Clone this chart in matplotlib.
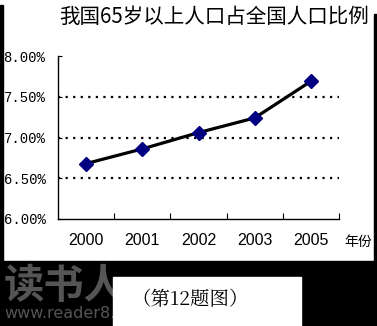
import matplotlib
matplotlib.use("Agg")
import matplotlib.pyplot as plt
from matplotlib.patches import Rectangle

# données
annees = ["2000", "2001", "2002", "2003", "2005"]
pourcent = [6.68, 6.86, 7.06, 7.24, 7.69]
graduations = [6.0, 6.5, 7.0, 7.5, 8.0]
titre = "我国65岁以上人口占全国人口比例"
unite_x = "年份"
legende = "（第12题图）"

W, H = 377, 326
fig = plt.figure(figsize=(W / 100, H / 100), dpi=100)
fig.patch.set_facecolor("white")

def px(x0, y0, x1, y1):
    # rectangle en pixels (origine en haut à gauche) -> coordonnées figure
    return (x0 / W, 1 - y1 / H), (x1 - x0) / W, (y1 - y0) / H

# bordures noires et bandeau du bas
for r in [(0, 5, 2.5, 326), (374, 14, 377, 326), (0, 261, 377, 326)]:
    xy, w, h = px(*r)
    fig.add_artist(Rectangle(xy, w, h, transform=fig.transFigure, color="black", zorder=0))

fig.text(4 / W, 1 - 286 / H, "读书人", fontsize=29, fontweight="bold", color="#555555",
         family=["Noto Sans CJK SC"], va="center", ha="left", zorder=1)
fig.text(4 / W, 1 - 313 / H, "www.reader8.cn", fontsize=11.5, color="#555555",
         family=["DejaVu Sans"], va="center", ha="left", zorder=1)

xy, w, h = px(113, 277, 301, 326)
fig.add_artist(Rectangle(xy, w, h, transform=fig.transFigure, color="white", zorder=2))
fig.text(190 / W, 1 - 300 / H, legende, fontsize=14, color="black",
         family=["Noto Serif CJK SC", "Noto Sans CJK SC"], va="center", ha="center", zorder=3)

# zone du graphique
ax = fig.add_axes([58 / W, 1 - 219 / H, (339 - 58) / W, (219 - 56) / H])
x = list(range(len(annees)))
ax.plot(x, pourcent, color="black", lw=2.3, zorder=3)
ax.plot(x, pourcent, ls="none", marker="D", ms=7, color="#000080", zorder=4)

ax.set_xlim(-0.5, len(annees) - 0.5)
ax.set_ylim(6.0, 8.0)
for g in graduations[1:-1]:
    ax.axhline(g, color="black", lw=1.6, ls=(0, (1, 2.4)), zorder=1)

ax.spines["top"].set_visible(False)
ax.spines["right"].set_visible(False)
for s in ("left", "bottom"):
    ax.spines[s].set_linewidth(1.0)

ax.set_yticks(graduations)
ax.set_yticklabels(["%.2f%%" % g for g in graduations], family="Liberation Mono", fontsize=10)
ax.tick_params(axis="y", direction="in", length=3, pad=9)

ax.set_xticks([i + 0.5 for i in x])
ax.set_xticklabels([])
ax.set_xticks(x, minor=True)
ax.set_xticklabels(annees, minor=True, family="Liberation Sans", fontsize=11.5)
ax.tick_params(axis="x", which="major", direction="in", length=4)
ax.tick_params(axis="x", which="minor", length=0, pad=10)

fig.text(344 / W, 1 - 242 / H, unite_x, fontsize=10, family=["Noto Sans CJK SC"],
         va="center", ha="left")
fig.text(214 / W, 1 - 17 / H, titre, fontsize=14.8, family=["Noto Sans CJK SC"],
         va="center", ha="center")

fig.savefig("out.png", dpi=100)
